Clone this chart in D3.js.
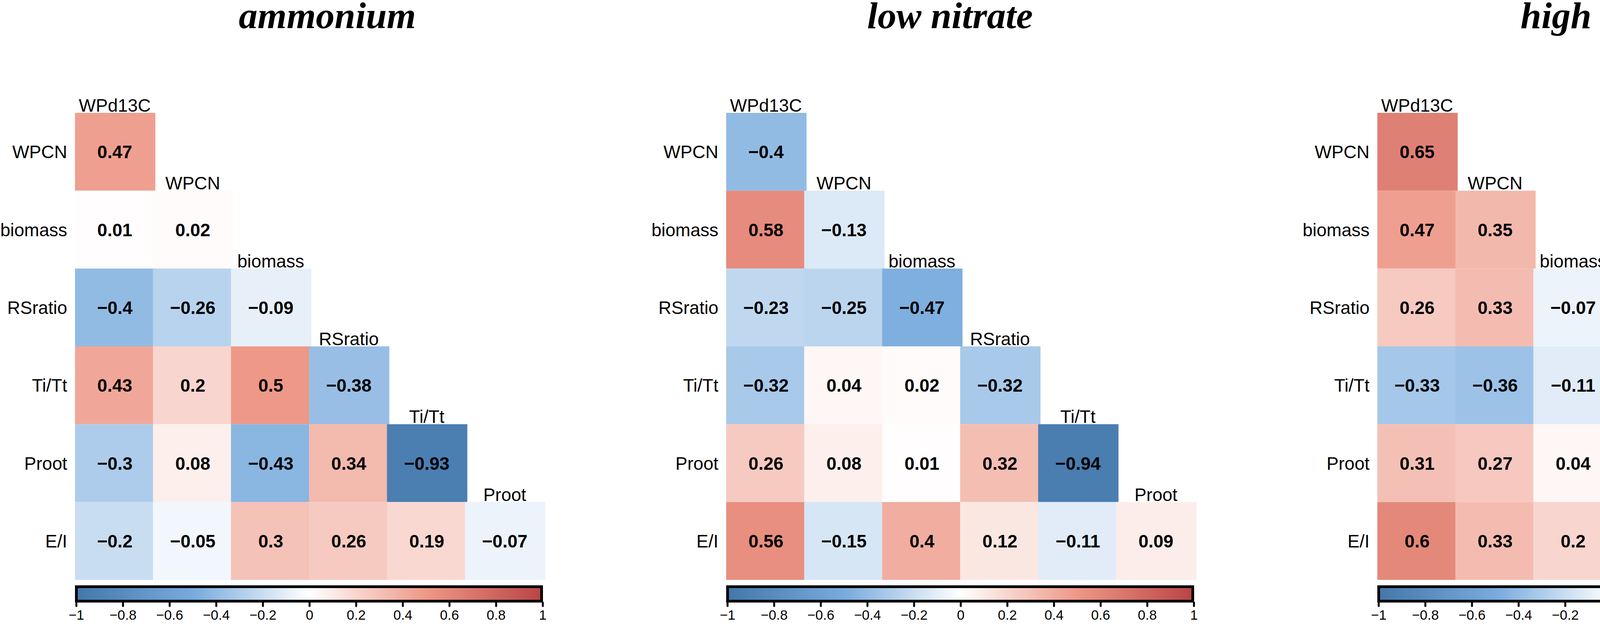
<!DOCTYPE html>
<html>
<head>
<meta charset="utf-8">
<script src="https://cdn.jsdelivr.net/npm/d3@7"></script>
<style>
  body { margin: 0; background: #fff; }
  svg { display: block; }
  .cp-title { font-family: 'Liberation Serif', 'Times New Roman', serif; font-weight: bold; font-style: italic; font-size: 96px; }
  .cp-lab { font-family: 'Liberation Sans', Arial, sans-serif; font-size: 46px; fill: #000; }
  .cp-num { font-family: 'Liberation Sans', Arial, sans-serif; font-size: 46px; font-weight: bold; fill: #000; }
  .cp-axis text { font-family: 'Liberation Sans', Arial, sans-serif; font-size: 35px; fill: #000; }
</style>
</head>
<body>
<svg class="cp-svg"></svg>
<script>
// variables, first is only a column, last is only a row
const variables = ['WPd13C', 'WPCN', 'biomass', 'RSratio', 'Ti/Tt', 'Proot', 'E/I']

const titles = ['ammonium', 'low nitrate', 'high nitrate']

// lower triangle, one row per variable from WPCN down to E/I
const ammonium = [
    [0.47],
    [0.01, 0.02],
    [-0.4, -0.26, -0.09],
    [0.43, 0.2, 0.5, -0.38],
    [-0.3, 0.08, -0.43, 0.34, -0.93],
    [-0.2, -0.05, 0.3, 0.26, 0.19, -0.07]
]

const lowNitrate = [
    [-0.4],
    [0.58, -0.13],
    [-0.23, -0.25, -0.47],
    [-0.32, 0.04, 0.02, -0.32],
    [0.26, 0.08, 0.01, 0.32, -0.94],
    [0.56, -0.15, 0.4, 0.12, -0.11, 0.09]
]

const highNitrate = [
    [0.65],
    [0.47, 0.35],
    [0.26, 0.33, -0.07],
    [-0.33, -0.36, -0.11, -0.35],
    [0.31, 0.27, 0.04, 0.64, -0.8],
    [0.6, 0.33, 0.2, 0.69, -0.42, 0.65]
]

const colorTicks = [-1, -0.8, -0.6, -0.4, -0.2, 0, 0.2, 0.4, 0.6, 0.8, 1]

const matrices = [ammonium, lowNitrate, highNitrate]

const width = 4724
const height = 1598

const gridLeft = [192, 1859, 3526]
const titleX = [838, 2432, 4126]
const gridSize = 1198
const gridTop = 289

const svg = d3.select('.cp-svg')
    .attr('width', width)
    .attr('height', height)

const color = d3.scaleLinear()
    .domain([-1, -0.5, 0, 0.5, 1])
    .range(['#4477AA', '#77AADD', '#FFFFFF', '#EE9988', '#BB4444'])

const minus = v => String(v).replace('-', '\u2212')

const defs = svg.append('defs')
const grad = defs.append('linearGradient')
    .attr('id', 'cp-grad')
    .attr('x1', '0%').attr('x2', '100%')
    .attr('y1', '0%').attr('y2', '0%')

grad.selectAll('stop')
    .data(d3.range(0, 21))
    .enter()
    .append('stop')
    .attr('offset', d => (d * 5) + '%')
    .attr('stop-color', d => color(-1 + d / 10))

const rowVars = variables.slice(1)
const colVars = variables.slice(0, 6)

matrices.forEach((m, p) => {

    const x0 = gridLeft[p]

    const x = d3.scaleBand()
        .domain(colVars)
        .range([x0, x0 + gridSize])

    const y = d3.scaleBand()
        .domain(rowVars)
        .range([gridTop, gridTop + gridSize - 2])

    const g = svg.append('g')

    g.append('text')
        .attr('class', 'cp-title')
        .attr('x', titleX[p])
        .attr('y', 72)
        .attr('text-anchor', 'middle')
        .text(titles[p])

    const cells = []
    m.forEach((row, i) => {
        row.forEach((v, j) => {
            cells.push({ row: rowVars[i], col: colVars[j], v: v })
        })
    })

    g.selectAll('rect.cp-cell')
        .data(cells)
        .enter()
        .append('rect')
        .attr('class', 'cp-cell')
        .attr('x', d => x(d.col))
        .attr('y', d => y(d.row))
        .attr('width', x.bandwidth() + 6)
        .attr('height', y.bandwidth())
        .attr('fill', d => color(d.v))

    g.selectAll('text.cp-num')
        .data(cells)
        .enter()
        .append('text')
        .attr('class', 'cp-num')
        .attr('x', d => x(d.col) + x.bandwidth() / 2 + 2)
        .attr('y', d => y(d.row) + y.bandwidth() / 2)
        .attr('dy', '0.36em')
        .attr('text-anchor', 'middle')
        .text(d => minus(d.v))

    // row labels on the left
    g.selectAll('text.cp-rowlab')
        .data(rowVars)
        .enter()
        .append('text')
        .attr('class', 'cp-lab cp-rowlab')
        .attr('x', x0 - 20)
        .attr('y', d => y(d) + y.bandwidth() / 2)
        .attr('dy', '0.36em')
        .attr('text-anchor', 'end')
        .text(d => d)

    // column labels sit on the diagonal
    g.selectAll('text.cp-collab')
        .data(colVars)
        .enter()
        .append('text')
        .attr('class', 'cp-lab cp-collab')
        .attr('x', d => x(d) + x.bandwidth() / 2 + 2)
        .attr('y', (d, i) => y(rowVars[i]) - 3)
        .attr('text-anchor', 'middle')
        .text(d => d)

    // colour legend
    g.append('rect')
        .attr('x', x0 + 3.5)
        .attr('y', 1502.5)
        .attr('width', gridSize - 7)
        .attr('height', 37)
        .attr('fill', 'url(#cp-grad)')
        .attr('stroke', '#000')
        .attr('stroke-width', 7)

    const cx = d3.scaleLinear()
        .domain([-1, 1])
        .range([x0 + 3, x0 + gridSize - 1])

    const axis = g.append('g')
        .attr('class', 'cp-axis')
        .attr('transform', 'translate(0, 1543)')
        .call(d3.axisBottom(cx)
            .tickValues(colorTicks)
            .tickSize(9)
            .tickPadding(10)
            .tickFormat(d => minus(d)))

    axis.select('.domain').remove()
    axis.selectAll('.tick line')
        .attr('stroke', '#000')
        .attr('stroke-width', 5)
        .attr('stroke-linecap', 'round')

    // keep the last label inside the picture
    axis.selectAll('.tick text')
        .attr('dx', d => cx(d) + 12 > width ? width - 12 - cx(d) : 0)
})
</script>
</body>
</html>
